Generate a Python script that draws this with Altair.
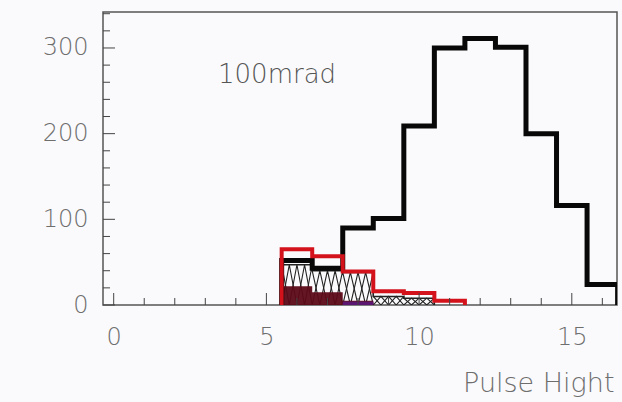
import altair as alt
import pandas as pd

# ---- data ----
black_centers = [6, 7, 8, 9, 10, 11, 12, 13, 14, 15, 16]
black_vals = [52, 43, 90, 101, 209, 300, 311, 301, 200, 116, 24]
red_centers = [6, 7, 8, 9, 10, 11]
red_vals = [65, 57, 39, 16, 14, 5]
hatch_centers = [6, 7, 8, 9, 10]
hatch_vals = [47, 40, 38, 10, 8]
maroon_centers = [6, 7, 8]
maroon_vals = [22, 15, 5]
purple_centers = [8]
purple_vals = [4]
x_ticks = list(range(0, 17))
x_major = [0, 5, 10, 15]
y_ticks = list(range(0, 341, 20))
y_major = [0, 100, 200, 300]
label_text = ["100mrad"]
label_x = [5.35]
label_y = [268]

W, H = 514, 293
XDOM = [-0.35, 16.48]
YDOM = [0, 342]
FONT = "DejaVu Sans"
GREY = "#6e6e6e"


def outline(centers, vals):
    rows = []
    o = 0
    rows.append({"x": centers[0] - 0.5, "y": 0, "o": o}); o += 1
    for c, v in zip(centers, vals):
        rows.append({"x": c - 0.5, "y": v, "o": o}); o += 1
        rows.append({"x": c + 0.5, "y": v, "o": o}); o += 1
    rows.append({"x": centers[-1] + 0.5, "y": 0, "o": o})
    return pd.DataFrame(rows)


def stepped(centers, vals):
    rows = [{"x": c - 0.5, "y": v} for c, v in zip(centers, vals)]
    rows.append({"x": centers[-1] + 0.5, "y": vals[-1]})
    return pd.DataFrame(rows)


def hatch(centers, vals):
    rows = []
    for line, phase in (("a", 0), ("b", 1)):
        o = 0
        for c, v in zip(centers, vals):
            left = c - 0.5
            for k in range(5):
                up = (k + phase) % 2 == 1
                rows.append({"x": left + 0.25 * k, "y": v if up else 0, "line": line, "o": o})
                o += 1
    return pd.DataFrame(rows)


xs = alt.Scale(domain=XDOM, nice=False, zero=False)
ys = alt.Scale(domain=YDOM, nice=False, zero=False)

x_axis = alt.Axis(
    values=x_major, ticks=False, domain=False, grid=False,
    labelFont=FONT, labelFontSize=24, labelColor=GREY, labelFontWeight=200,
    labelPadding=20, title="Pulse Hight", titleFont=FONT, titleFontSize=27,
    titleFontWeight=200, titleColor=GREY, titleAnchor="end", titleAlign="right",
    titleBaseline="middle", titleX=W - 3, titleY=78)
y_axis = alt.Axis(
    values=y_major, ticks=False, domain=False, grid=False,
    labelFont=FONT, labelFontSize=24, labelColor=GREY, labelFontWeight=200,
    labelPadding=15, title=None)


def X():
    return alt.X("x:Q", scale=xs, axis=x_axis)


def Y():
    return alt.Y("y:Q", scale=ys, axis=y_axis)


xt = pd.DataFrame({"x": x_ticks, "len": [12 if t in x_major else 7 for t in x_ticks]})
xtick_min = alt.Chart(xt[xt["len"] == 7]).mark_rule(color="#444", strokeWidth=1).encode(
    x=X(), y=alt.value(H), y2=alt.value(H - 7))
xtick_maj = alt.Chart(xt[xt["len"] == 12]).mark_rule(color="#444", strokeWidth=1).encode(
    x=X(), y=alt.value(H), y2=alt.value(H - 12))

yt = pd.DataFrame({"y": y_ticks, "len": [12 if t in y_major else 7 for t in y_ticks]})
ytick_min = alt.Chart(yt[yt["len"] == 7]).mark_rule(color="#444", strokeWidth=1).encode(
    y=Y(), x=alt.value(0), x2=alt.value(7))
ytick_maj = alt.Chart(yt[yt["len"] == 12]).mark_rule(color="#444", strokeWidth=1).encode(
    y=Y(), x=alt.value(0), x2=alt.value(12))

hatch_lines = alt.Chart(hatch(hatch_centers, hatch_vals)).mark_line(
    color="#222", strokeWidth=1.1, clip=True).encode(
    x=X(), y=Y(), detail="line:N", order="o:Q")
hatch_out = alt.Chart(outline(hatch_centers, hatch_vals)).mark_line(
    color="#222", strokeWidth=1.5, clip=True).encode(x=X(), y=Y(), order="o:Q")

maroon = alt.Chart(stepped(maroon_centers, maroon_vals)).mark_area(
    color="#5c0a18", opacity=0.95, clip=True, interpolate="step-after").encode(x=X(), y=Y())
purple = alt.Chart(stepped(purple_centers, purple_vals)).mark_area(
    color="#5a1670", clip=True, interpolate="step-after").encode(x=X(), y=Y())

black = alt.Chart(outline(black_centers, black_vals)).mark_line(
    color="#080808", strokeWidth=5, clip=True, strokeJoin="miter").encode(
    x=X(), y=Y(), order="o:Q")
red = alt.Chart(outline(red_centers, red_vals)).mark_line(
    color="#d4121c", strokeWidth=4, clip=True, strokeJoin="miter").encode(
    x=X(), y=Y(), order="o:Q")

txt = alt.Chart(pd.DataFrame({"x": label_x, "y": label_y, "t": label_text})).mark_text(
    font=FONT, fontSize=26, fontWeight=200, color="#555", align="center",
    baseline="middle").encode(x=X(), y=Y(), text="t:N")

chart = alt.layer(
    hatch_lines, hatch_out, maroon, purple, black, red,
    xtick_min, xtick_maj, ytick_min, ytick_maj, txt
).properties(
    width=W, height=H,
    autosize=alt.AutoSizeParams(type="none"),
    padding={"left": 103, "top": 12, "right": 5, "bottom": 97},
    background="#fafafc",
).configure_view(stroke="#555", strokeWidth=1.5)

chart.save("out.html", embed_options={"renderer": "svg", "actions": False})
